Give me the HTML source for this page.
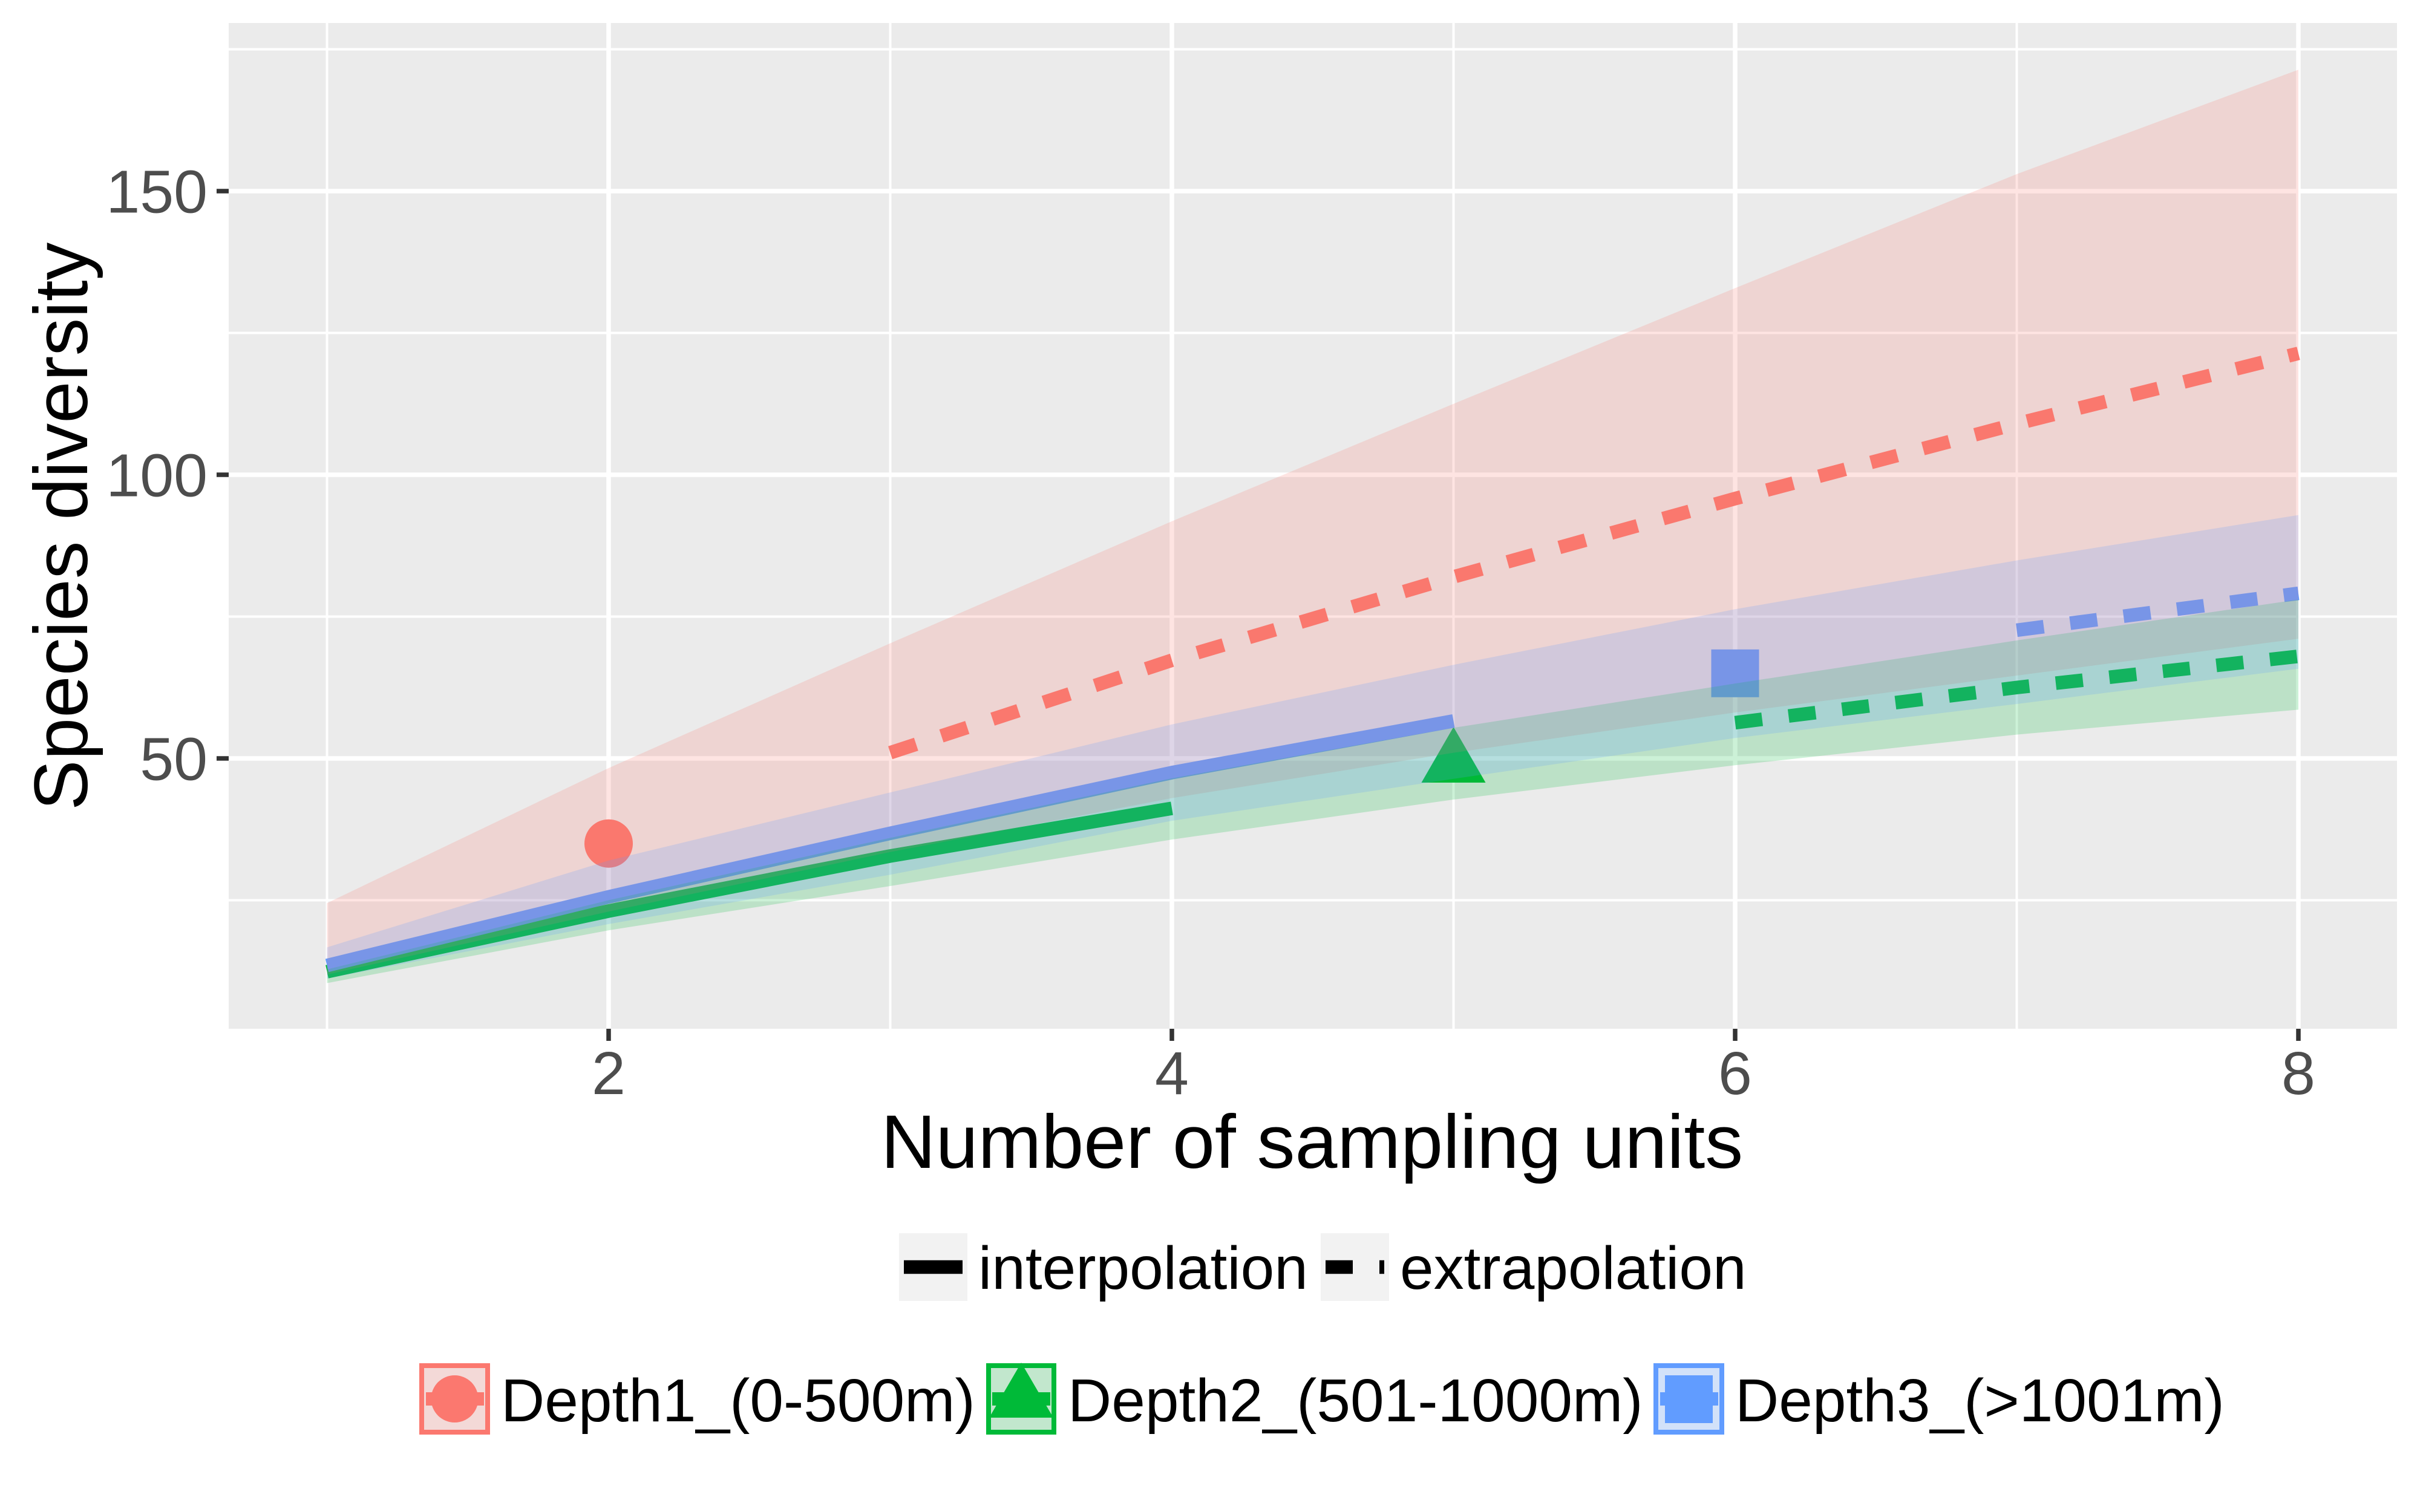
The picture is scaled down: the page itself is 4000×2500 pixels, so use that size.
<!DOCTYPE html>
<html lang="en">
<head>
<meta charset="utf-8">
<title>Species diversity by number of sampling units</title>
<style>
html,body{margin:0;padding:0;background:#fff;width:4000px;height:2500px;overflow:hidden}
svg{display:block}
text{font-family:"Liberation Sans",sans-serif}
</style>
</head>
<body>
<svg id="chart" xmlns="http://www.w3.org/2000/svg" width="4000" height="2500" viewBox="0 0 4000 2500">
  <rect x="0" y="0" width="4000" height="2500" fill="#ffffff"/>
  <rect x="378" y="38" width="3584" height="1663" fill="#ebebeb"/>
  <g id="grid"></g>
  <g id="axes"></g>
  <g id="points"></g>
  <g id="lines"></g>
  <g id="ribbons"></g>

  <text x="1456" y="1931" font-size="125.7" fill="#000">Number of sampling units</text>
  <text transform="translate(144 1340) rotate(-90)" font-size="125.2" fill="#000">Species diversity</text>

  <g>
    <g>
      <rect x="1486" y="2039" width="113" height="112" fill="#f2f2f2"/>
      <line x1="1494" y1="2095" x2="1591" y2="2095" stroke="#000" stroke-width="22.5"/>
      <text x="1617" y="2131" font-size="100" fill="#000">interpolation</text>
    </g>
    <g>
      <rect x="2183" y="2039" width="113" height="112" fill="#f2f2f2"/>
      <line x1="2191" y1="2095" x2="2288" y2="2095" stroke="#000" stroke-width="22.5" stroke-dasharray="45 44"/>
      <text x="2314" y="2131" font-size="100" fill="#000">extrapolation</text>
    </g>
  </g>

  <g>
    <g>
      <rect x="697" y="2258" width="109" height="110" fill="#f3d9d7" stroke="#fb786f" stroke-width="8"/>
      <line x1="704" y1="2313" x2="800" y2="2313" stroke="#fb786f" stroke-width="22"/>
      <circle cx="751.5" cy="2313" r="39" fill="#fb786f"/>
      <text x="828" y="2350" font-size="100" fill="#000">Depth1_(0-500m)</text>
    </g>
    <g>
      <rect x="1634" y="2258" width="108" height="110" fill="#c2e7cd" stroke="#00ba38" stroke-width="8"/>
      <line x1="1640" y1="2313" x2="1736" y2="2313" stroke="#00ba38" stroke-width="22"/>
      <polygon points="1688,2253 1741,2344 1635,2344" fill="#00ba38"/>
      <text x="1765" y="2350" font-size="100" fill="#000">Depth2_(501-1000m)</text>
    </g>
    <g>
      <rect x="2737" y="2258" width="109" height="110" fill="#d2e1f9" stroke="#619cff" stroke-width="8"/>
      <line x1="2744" y1="2313" x2="2840" y2="2313" stroke="#619cff" stroke-width="22"/>
      <rect x="2752" y="2274" width="79" height="79" fill="#619cff"/>
      <text x="2868" y="2350" font-size="100" fill="#000">Depth3_(&gt;1001m)</text>
    </g>
  </g>
</svg>
<script>
// Axis ticks
const xMajorTicks = [2, 4, 6, 8];
const xMinorTicks = [1, 3, 5, 7];
const yMajorTicks = [50, 100, 150];
const yMinorTicks = [25, 75, 125, 175];

// Ribbon bounds at sampling units 1..8
const samplingUnits = [1, 2, 3, 4, 5, 6, 7, 8];
const depth1Upper = [24.5, 48.3, 70.3, 91.8, 112.5, 132.9, 153, 171.4];
const depth1Lower = [11.9, 23, 33.5, 43, 51, 58.1, 64.6, 71.1];
const depth2Upper = [12.8, 25, 36, 46.5, 55.4, 63.2, 70.8, 78];
const depth2Lower = [10.4, 19.7, 27.5, 35.7, 42.75, 48.8, 54.2, 58.6];
const depth3Upper = [16.7, 32, 44, 56, 66.5, 76.3, 84.9, 92.9];
const depth3Lower = [11.2, 20.8, 29.5, 39, 46.4, 53.6, 59.6, 65.8];

// Interpolated (solid) lines
const depth2InterpX = [1, 2, 3, 4];
const depth2InterpY = [12.4, 23.1, 32.8, 41.2];
const depth3InterpX = [1, 2, 3, 4, 5];
const depth3InterpY = [13.5, 25.6, 36.8, 47.5, 56.6];

// Extrapolated (dashed) lines
const depth1ExtrapX = [3, 4, 5, 6, 7, 8];
const depth1ExtrapY = [51, 67.3, 82, 95.8, 109, 121.4];
const depth2ExtrapX = [6, 7, 8];
const depth2ExtrapY = [56.3, 62.5, 68];
const depth3ExtrapX = [7, 8];
const depth3ExtrapY = [72.6, 79.1];

// Observed reference points
const depth1Observed = [2, 35];
const depth2Observed = [5, 50];
const depth3Observed = [6, 65];

const NS = 'http://www.w3.org/2000/svg';
const COLOR_D1 = '#fb786f';
const COLOR_D2 = '#00ba38';
const COLOR_D3 = '#619cff';

function xScale(v) { return 1006 + (v - 2) * 465.5; }
function yScale(v) { return 1254 - (v - 50) * 9.38; }
function make(tag, attrs, parent) {
  const el = document.createElementNS(NS, tag);
  for (const k in attrs) el.setAttribute(k, attrs[k]);
  parent.appendChild(el);
  return el;
}
function polyPoints(xs, ys) {
  return xs.map(function (x, i) { return xScale(x) + ',' + yScale(ys[i]); }).join(' ');
}

const grid = document.getElementById('grid');
const axes = document.getElementById('axes');
const points = document.getElementById('points');
const lines = document.getElementById('lines');
const ribbons = document.getElementById('ribbons');

yMinorTicks.forEach(function (v) {
  const el = make('line', { x1: 378, x2: 3962, y1: yScale(v), y2: yScale(v), stroke: '#fff', 'stroke-width': 4 }, grid);
  
  
});
xMinorTicks.forEach(function (v) {
  const el = make('line', { x1: xScale(v), x2: xScale(v), y1: 38, y2: 1701, stroke: '#fff', 'stroke-width': 4 }, grid);
  
  
});
yMajorTicks.forEach(function (v) {
  const el = make('line', { x1: 378, x2: 3962, y1: yScale(v), y2: yScale(v), stroke: '#fff', 'stroke-width': 7.5 }, grid);
  
  
  const tick = make('line', { x1: 358, x2: 378, y1: yScale(v), y2: yScale(v), stroke: '#333333', 'stroke-width': 7.5 }, axes);
  
  
  const label = make('text', { x: 343, y: yScale(v) + 35.5, 'text-anchor': 'end', 'font-size': 100.5, fill: '#4d4d4d' }, axes);
  
  
  label.textContent = String(v);
});
xMajorTicks.forEach(function (v) {
  const el = make('line', { x1: xScale(v), x2: xScale(v), y1: 38, y2: 1701, stroke: '#fff', 'stroke-width': 7.5 }, grid);
  
  
  const tick = make('line', { x1: xScale(v), x2: xScale(v), y1: 1701, y2: 1721, stroke: '#333333', 'stroke-width': 7.5 }, axes);
  
  
  const label = make('text', { x: xScale(v), y: 1809, 'text-anchor': 'middle', 'font-size': 100.5, fill: '#4d4d4d' }, axes);
  
  
  label.textContent = String(v);
});

// Observed points (sit beneath the ribbons)
const circleMark = make('circle', { cx: xScale(depth1Observed[0]), cy: yScale(depth1Observed[1]), r: 40, fill: COLOR_D1 }, points);



const tx = xScale(depth2Observed[0]);
const ty = yScale(depth2Observed[1]);
const triangleMark = make('polygon', {
  points: tx + ',' + (ty - 52) + ' ' + (tx + 53) + ',' + (ty + 40) + ' ' + (tx - 53) + ',' + (ty + 40),
  fill: COLOR_D2
}, points);



const squareMark = make('rect', {
  x: xScale(depth3Observed[0]) - 39.5, y: yScale(depth3Observed[1]) - 39.5, width: 79, height: 79, fill: COLOR_D3
}, points);



// Lines
function lineAttrs(xs, ys, color, dashed) {
  const a = { points: polyPoints(xs, ys), fill: 'none', stroke: color, 'stroke-width': 22.5, 'stroke-linejoin': 'round', 'stroke-linecap': 'butt' };
  if (dashed) a['stroke-dasharray'] = '45 44';
  return a;
}
const d1Ex = make('polyline', lineAttrs(depth1ExtrapX, depth1ExtrapY, COLOR_D1, true), lines);


const d2In = make('polyline', lineAttrs(depth2InterpX, depth2InterpY, COLOR_D2, false), lines);


const d2Ex = make('polyline', lineAttrs(depth2ExtrapX, depth2ExtrapY, COLOR_D2, true), lines);


const d3In = make('polyline', lineAttrs(depth3InterpX, depth3InterpY, COLOR_D3, false), lines);


const d3Ex = make('polyline', lineAttrs(depth3ExtrapX, depth3ExtrapY, COLOR_D3, true), lines);



// Ribbons (drawn last at 20% alpha, tinting what's beneath them)
function ribbonPoints(upper, lower) {
  const top = samplingUnits.map(function (x, i) { return xScale(x) + ',' + yScale(upper[i]); });
  const bottom = samplingUnits.map(function (x, i) { return xScale(x) + ',' + yScale(lower[i]); }).reverse();
  return top.concat(bottom).join(' ');
}
const r1 = make('polygon', { points: ribbonPoints(depth1Upper, depth1Lower), fill: COLOR_D1, 'fill-opacity': 0.2 }, ribbons);


const r2 = make('polygon', { points: ribbonPoints(depth2Upper, depth2Lower), fill: COLOR_D2, 'fill-opacity': 0.2 }, ribbons);


const r3 = make('polygon', { points: ribbonPoints(depth3Upper, depth3Lower), fill: COLOR_D3, 'fill-opacity': 0.2 }, ribbons);


</script>
</body>
</html>
